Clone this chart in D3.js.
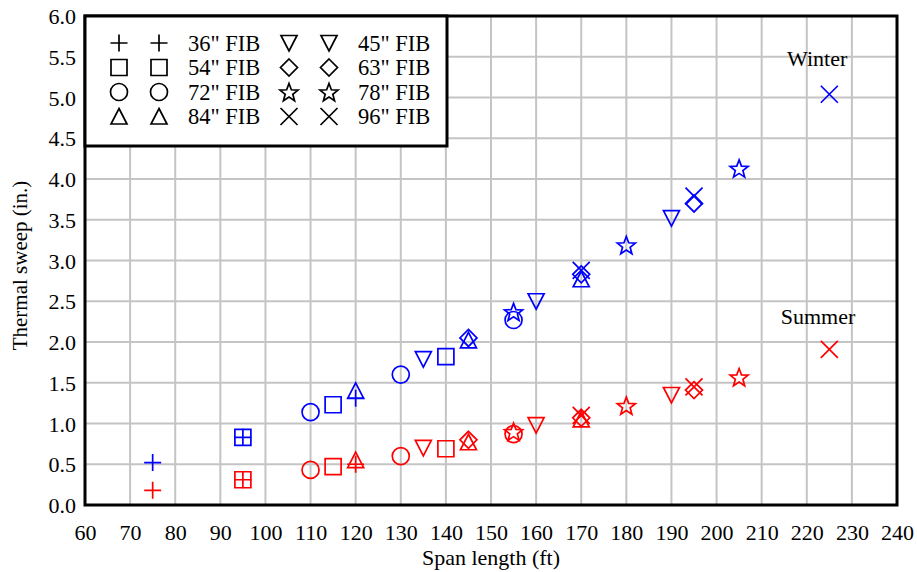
<!DOCTYPE html>
<html>
<head>
<meta charset="utf-8">
<script src="https://cdn.jsdelivr.net/npm/d3@7"></script>
<style>
  body { margin: 0; background: #fff; }
  text { font-family: "Liberation Serif", "Times New Roman", serif; }
</style>
</head>
<body>
<div id="chart"></div>
<script>
// span lengths (ft) and thermal sweep (in.) per FIB size, winter and summer
const fib36Span = [75, 95, 120];
const fib36Winter = [0.52, 0.83, 1.31];
const fib36Summer = [0.18, 0.31, 0.50];

const fib45Span = [135, 160, 190];
const fib45Winter = [1.79, 2.50, 3.52];
const fib45Summer = [0.70, 0.98, 1.35];

const fib54Span = [95, 115, 140];
const fib54Winter = [0.83, 1.23, 1.82];
const fib54Summer = [0.31, 0.47, 0.69];

const fib63Span = [145, 170, 195];
const fib63Winter = [2.05, 2.83, 3.70];
const fib63Summer = [0.80, 1.07, 1.41];

const fib72Span = [110, 130, 155];
const fib72Winter = [1.14, 1.60, 2.27];
const fib72Summer = [0.43, 0.60, 0.87];

const fib78Span = [155, 180, 205];
const fib78Winter = [2.37, 3.19, 4.13];
const fib78Summer = [0.90, 1.22, 1.57];

const fib84Span = [120, 145, 170];
const fib84Winter = [1.40, 2.02, 2.77];
const fib84Summer = [0.55, 0.77, 1.05];

const fib96Span = [170, 195, 225];
const fib96Winter = [2.88, 3.79, 5.04];
const fib96Summer = [1.10, 1.45, 1.91];

const xTicks = d3.range(60, 241, 10);
const yTicks = d3.range(0, 6.01, 0.5);

const series = [
  { name: '36" FIB', shape: 'plus', span: fib36Span, winter: fib36Winter, summer: fib36Summer },
  { name: '54" FIB', shape: 'square', span: fib54Span, winter: fib54Winter, summer: fib54Summer },
  { name: '72" FIB', shape: 'circle', span: fib72Span, winter: fib72Winter, summer: fib72Summer },
  { name: '84" FIB', shape: 'triUp', span: fib84Span, winter: fib84Winter, summer: fib84Summer },
  { name: '45" FIB', shape: 'triDown', span: fib45Span, winter: fib45Winter, summer: fib45Summer },
  { name: '63" FIB', shape: 'diamond', span: fib63Span, winter: fib63Winter, summer: fib63Summer },
  { name: '78" FIB', shape: 'star', span: fib78Span, winter: fib78Winter, summer: fib78Summer },
  { name: '96" FIB', shape: 'cross', span: fib96Span, winter: fib96Winter, summer: fib96Summer }
];

const width = 917, height = 572;
const margin = { top: 16, right: 20, bottom: 67, left: 85 };
const innerW = width - margin.left - margin.right;
const innerH = height - margin.top - margin.bottom;

const svg = d3.select('#chart')
  .append('svg')
    .attr('width', width)
    .attr('height', height);

const x = d3.scaleLinear().domain([60, 240]).range([0, innerW]);
const y = d3.scaleLinear().domain([0, 6]).range([innerH, 0]);

const g = svg.append('g')
  .attr('transform', 'translate(' + margin.left + ',' + margin.top + ')');

// grid
g.append('g')
  .selectAll('line.vgrid')
  .data(xTicks)
  .enter()
  .append('line')
    .attr('x1', d => x(d)).attr('x2', d => x(d))
    .attr('y1', 0).attr('y2', innerH)
    .attr('stroke', '#c4c4c4').attr('stroke-width', 2);

g.append('g')
  .selectAll('line.hgrid')
  .data(yTicks)
  .enter()
  .append('line')
    .attr('x1', 0).attr('x2', innerW)
    .attr('y1', d => y(d)).attr('y2', d => y(d))
    .attr('stroke', '#c4c4c4').attr('stroke-width', 2);

// axes (labels only)
const xAxis = g.append('g')
  .attr('transform', 'translate(0,' + innerH + ')')
  .call(d3.axisBottom(x).tickValues(xTicks).tickSize(0).tickPadding(19).tickFormat(d3.format('d')));
const yAxis = g.append('g')
  .call(d3.axisLeft(y).tickValues(yTicks).tickSize(0).tickPadding(9).tickFormat(d3.format('.1f')));
[xAxis, yAxis].forEach(a => {
  a.select('.domain').remove();
  a.selectAll('text')
    .attr('font-family', '"Liberation Serif", serif')
    .attr('font-size', 22)
    .attr('fill', '#000');
});
yAxis.selectAll('text').attr('dy', '0.35em');

// marker shapes
function shapePath(shape) {
  switch (shape) {
    case 'plus': return 'M-8.5,0H8.5M0,-8.5V8.5';
    case 'square': return 'M-8,-8H8V8H-8Z';
    case 'circle': return 'M8.5,0A8.5,8.5 0 1,1 -8.5,0A8.5,8.5 0 1,1 8.5,0Z';
    case 'triUp': return 'M0,-8L8,7.5H-8Z';
    case 'triDown': return 'M0,8L8,-7.5H-8Z';
    case 'diamond': return 'M0,-8.5L8.5,0L0,8.5L-8.5,0Z';
    case 'cross': return 'M-8.5,-8.5L8.5,8.5M8.5,-8.5L-8.5,8.5';
    case 'star': {
      const pts = [];
      for (let i = 0; i < 10; i++) {
        const r = i % 2 === 0 ? 9.5 : 4;
        const a = -Math.PI / 2 + i * Math.PI / 5;
        pts.push([r * Math.cos(a), r * Math.sin(a) + 1]);
      }
      return 'M' + pts.map(p => p[0].toFixed(2) + ',' + p[1].toFixed(2)).join('L') + 'Z';
    }
  }
}

function drawMarkers(parent, s, key, color) {
  parent.selectAll(null)
    .data(s.span.map((v, i) => ({ span: v, val: s[key][i] })))
    .enter()
    .append('path')
      .attr('d', shapePath(s.shape))
      .attr('transform', d => 'translate(' + x(d.span) + ',' + y(d.val) + ')')
      .attr('fill', 'none')
      .attr('stroke', color)
      .attr('stroke-width', 1.7);
}

const marks = g.append('g');
series.forEach(s => {
  drawMarkers(marks, s, 'summer', '#ff0000');
  drawMarkers(marks, s, 'winter', '#0000ff');
});

// series labels
g.append('text')
  .attr('x', x(222.3)).attr('y', y(5.39))
  .attr('text-anchor', 'middle')
  .attr('font-size', 22)
  .text('Winter');
g.append('text')
  .attr('x', x(222.5)).attr('y', y(2.22))
  .attr('text-anchor', 'middle')
  .attr('font-size', 22)
  .text('Summer');

// frame
g.append('rect')
  .attr('width', innerW).attr('height', innerH)
  .attr('fill', 'none').attr('stroke', '#000').attr('stroke-width', 3);

// legend
const legend = g.append('g');
legend.append('rect')
  .attr('x', 0).attr('y', 0)
  .attr('width', 362).attr('height', 130)
  .attr('fill', '#fff').attr('stroke', '#000').attr('stroke-width', 3);

series.forEach((s, i) => {
  const col = Math.floor(i / 4), row = i % 4;
  const ly = 27 + row * 24.5;
  const lx = col === 0 ? 34 : 204;
  legend.append('path')
    .attr('d', shapePath(s.shape))
    .attr('transform', 'translate(' + lx + ',' + ly + ')')
    .attr('fill', 'none').attr('stroke', '#000').attr('stroke-width', 1.7);
  legend.append('path')
    .attr('d', shapePath(s.shape))
    .attr('transform', 'translate(' + (lx + 40) + ',' + ly + ')')
    .attr('fill', 'none').attr('stroke', '#000').attr('stroke-width', 1.7);
  legend.append('text')
    .attr('x', lx + 69).attr('y', ly)
    .attr('dy', '0.35em')
    .attr('font-size', 22.5)
    .text(s.name);
});

// axis titles
svg.append('text')
  .attr('x', margin.left + innerW / 2).attr('y', 565)
  .attr('text-anchor', 'middle')
  .attr('font-size', 22)
  .text('Span length (ft)');
svg.append('text')
  .attr('transform', 'translate(27,' + (margin.top + innerH / 2 + 5) + ') rotate(-90)')
  .attr('text-anchor', 'middle')
  .attr('font-size', 21)
  .text('Thermal sweep (in.)');
</script>
</body>
</html>
